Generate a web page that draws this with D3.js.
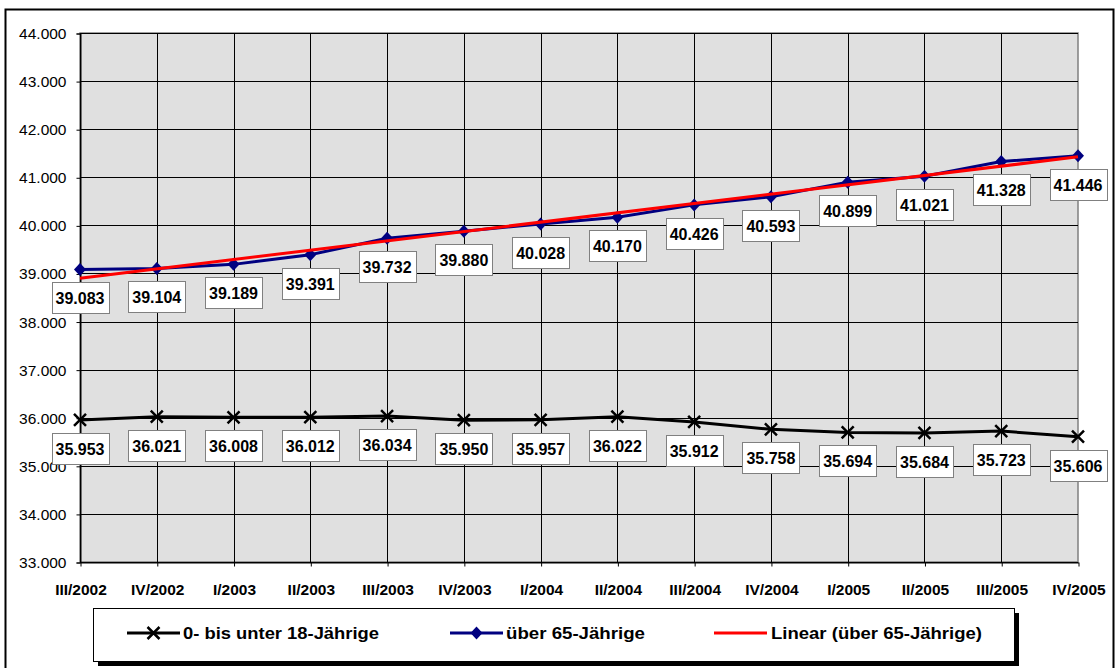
<!DOCTYPE html>
<html>
<head>
<meta charset="utf-8">
<script src="https://cdn.jsdelivr.net/npm/d3@7"></script>
<style>
  body { margin: 0; background: #fff; }
  svg { display: block; font-family: Arial, "Liberation Sans", sans-serif; }
</style>
</head>
<body>
<svg id="chart" width="1115" height="668"></svg>
<script>
// quarters on the x axis
var quarters = ["III/2002", "IV/2002", "I/2003", "II/2003", "III/2003", "IV/2003",
    "I/2004", "II/2004", "III/2004", "IV/2004", "I/2005", "II/2005", "III/2005", "IV/2005"];

// series values
var youngValues = [35953, 36021, 36008, 36012, 36034, 35950, 35957, 36022, 35912, 35758, 35694, 35684, 35723, 35606];
var oldValues = [39083, 39104, 39189, 39391, 39732, 39880, 40028, 40170, 40426, 40593, 40899, 41021, 41328, 41446];

var yTicks = [33000, 34000, 35000, 36000, 37000, 38000, 39000, 40000, 41000, 42000, 43000, 44000];
var legendLabels = ["0- bis unter 18-Jährige", "über 65-Jährige", "Linear (über 65-Jährige)"];

var de = d3.formatLocale({decimal: ",", thousands: ".", grouping: [3], currency: ["", " €"]});
var fmt = de.format(",");

var svg = d3.select("#chart");

// outer chart border
svg.append("path")
    .attr("d", "M5.5,668 V9.5 H1113.5 V668")
    .attr("fill", "none")
    .attr("stroke", "#000")
    .attr("stroke-width", 2);

let plot = {left: 80, right: 1078, top: 33, bottom: 562};

let x = d3.scalePoint().domain(quarters).range([plot.left, plot.right]);
let y = d3.scaleLinear().domain([33000, 44000]).range([plot.bottom, plot.top]);

// plot background
svg.append("rect")
    .attr("x", plot.left).attr("y", plot.top)
    .attr("width", plot.right - plot.left).attr("height", plot.bottom - plot.top)
    .attr("fill", "#e0e0e0")
    .attr("stroke", "#808080")
    .attr("stroke-width", 1.5);

// grid
svg.append("g")
    .selectAll("line")
    .data(yTicks)
    .enter().append("line")
    .attr("x1", plot.left).attr("x2", plot.right)
    .attr("y1", (d) => Math.round(y(d)) + 0.5).attr("y2", (d) => Math.round(y(d)) + 0.5)
    .attr("stroke", "#000");

svg.append("g")
    .selectAll("line")
    .data(quarters.slice(0, -1))
    .enter().append("line")
    .attr("x1", (d) => Math.round(x(d)) + 0.5).attr("x2", (d) => Math.round(x(d)) + 0.5)
    .attr("y1", plot.top).attr("y2", plot.bottom)
    .attr("stroke", "#000");

// axes
let yAxis = svg.append("g")
    .attr("transform", "translate(" + (plot.left + 0.5) + ",0.5)")
    .call(d3.axisLeft(y).tickValues(yTicks).tickSize(4).tickPadding(10).tickFormat(fmt));
yAxis.select(".domain").attr("stroke", "#000");
yAxis.selectAll("text").attr("font-size", "15.5px").attr("fill", "#000").attr("font-family", null);

let xAxis = svg.append("g")
    .attr("transform", "translate(0.5," + (plot.bottom + 0.5) + ")")
    .call(d3.axisBottom(x).tickSize(4).tickPadding(17).tickSizeOuter(0));
xAxis.select(".domain").attr("stroke", "#000");
xAxis.selectAll("text").attr("font-size", "15.5px").attr("font-weight", "bold").attr("fill", "#000").attr("font-family", null);

// lines
let line = d3.line()
    .x((d, i) => x(quarters[i]))
    .y((d) => y(d));

svg.append("path")
    .datum(youngValues)
    .attr("d", line)
    .attr("fill", "none")
    .attr("stroke", "#000")
    .attr("stroke-width", 3);

svg.append("path")
    .datum(oldValues)
    .attr("d", line)
    .attr("fill", "none")
    .attr("stroke", "#000080")
    .attr("stroke-width", 3);

// X markers
let cross = "M-6,-6L6,6M-6,6L6,-6";
svg.append("g")
    .selectAll("path")
    .data(youngValues)
    .enter().append("path")
    .attr("transform", (d, i) => "translate(" + x(quarters[i]) + "," + y(d) + ")")
    .attr("d", cross)
    .attr("stroke", "#000")
    .attr("stroke-width", 2.5)
    .attr("fill", "none");

// diamonds
let diamond = "M0,-6.5L6,0L0,6.5L-6,0Z";
svg.append("g")
    .selectAll("path")
    .data(oldValues)
    .enter().append("path")
    .attr("transform", (d, i) => "translate(" + x(quarters[i]) + "," + y(d) + ")")
    .attr("d", diamond)
    .attr("fill", "#000080");

// linear trendline (least squares over the 65+ series)
let n = oldValues.length;
let mx = d3.mean(oldValues, (d, i) => i);
let my = d3.mean(oldValues);
let sxy = d3.sum(oldValues, (d, i) => (i - mx) * (d - my));
let sxx = d3.sum(oldValues, (d, i) => (i - mx) * (i - mx));
let slope = sxy / sxx;
let icpt = my - slope * mx;

svg.append("line")
    .attr("x1", x(quarters[0])).attr("y1", y(icpt))
    .attr("x2", x(quarters[n - 1])).attr("y2", y(icpt + slope * (n - 1)))
    .attr("stroke", "#ff0000")
    .attr("stroke-width", 3);

// data labels
function addLabels(values) {
    let g = svg.append("g");
    values.forEach(function(v, i) {
        let cx = x(quarters[i]);
        let top = Math.round(y(v)) + 13.5;
        let lab = g.append("g");
        let rect = lab.append("rect");
        let t = lab.append("text")
            .attr("x", cx)
            .attr("y", top + 21)
            .attr("text-anchor", "middle")
            .attr("font-size", "16px")
            .attr("font-weight", "bold")
            .attr("fill", "#000")
            .text(fmt(v));
        let w = t.node().getComputedTextLength() + 8;
        rect.attr("x", Math.round(cx - w / 2) + 0.5)
            .attr("y", top)
            .attr("width", Math.round(w))
            .attr("height", 31)
            .attr("fill", "#fff")
            .attr("stroke", "#808080");
    });
}
addLabels(youngValues);
addLabels(oldValues);

// legend
svg.append("rect")
    .attr("x", 98).attr("y", 613)
    .attr("width", 921).attr("height", 53)
    .attr("fill", "#000");
svg.append("rect")
    .attr("x", 93.5).attr("y", 608.5)
    .attr("width", 921).attr("height", 53)
    .attr("fill", "#fff")
    .attr("stroke", "#000");

let legendY = 633;
let legendItems = [
    {x1: 127, x2: 180, color: "#000", marker: cross, textX: 183, width: 196},
    {x1: 450, x2: 503, color: "#000080", marker: diamond, textX: 506, width: 139},
    {x1: 714, x2: 767, color: "#ff0000", marker: null, textX: 771, width: 211}
];

legendItems.forEach(function(d, i) {
    svg.append("line")
        .attr("x1", d.x1).attr("x2", d.x2)
        .attr("y1", legendY).attr("y2", legendY)
        .attr("stroke", d.color)
        .attr("stroke-width", 3);
    if (d.marker === cross) {
        svg.append("path")
            .attr("transform", "translate(" + ((d.x1 + d.x2) / 2) + "," + legendY + ")")
            .attr("d", cross)
            .attr("stroke", d.color).attr("stroke-width", 2.5).attr("fill", "none");
    } else if (d.marker) {
        svg.append("path")
            .attr("transform", "translate(" + ((d.x1 + d.x2) / 2) + "," + legendY + ")")
            .attr("d", d.marker)
            .attr("fill", d.color);
    }
    svg.append("text")
        .attr("x", d.textX)
        .attr("y", legendY + 6)
        .attr("font-size", "16.5px")
        .attr("font-weight", "bold")
        .attr("textLength", d.width)
        .attr("lengthAdjust", "spacingAndGlyphs")
        .attr("fill", "#000")
        .text(legendLabels[i]);
});
</script>
</body>
</html>
